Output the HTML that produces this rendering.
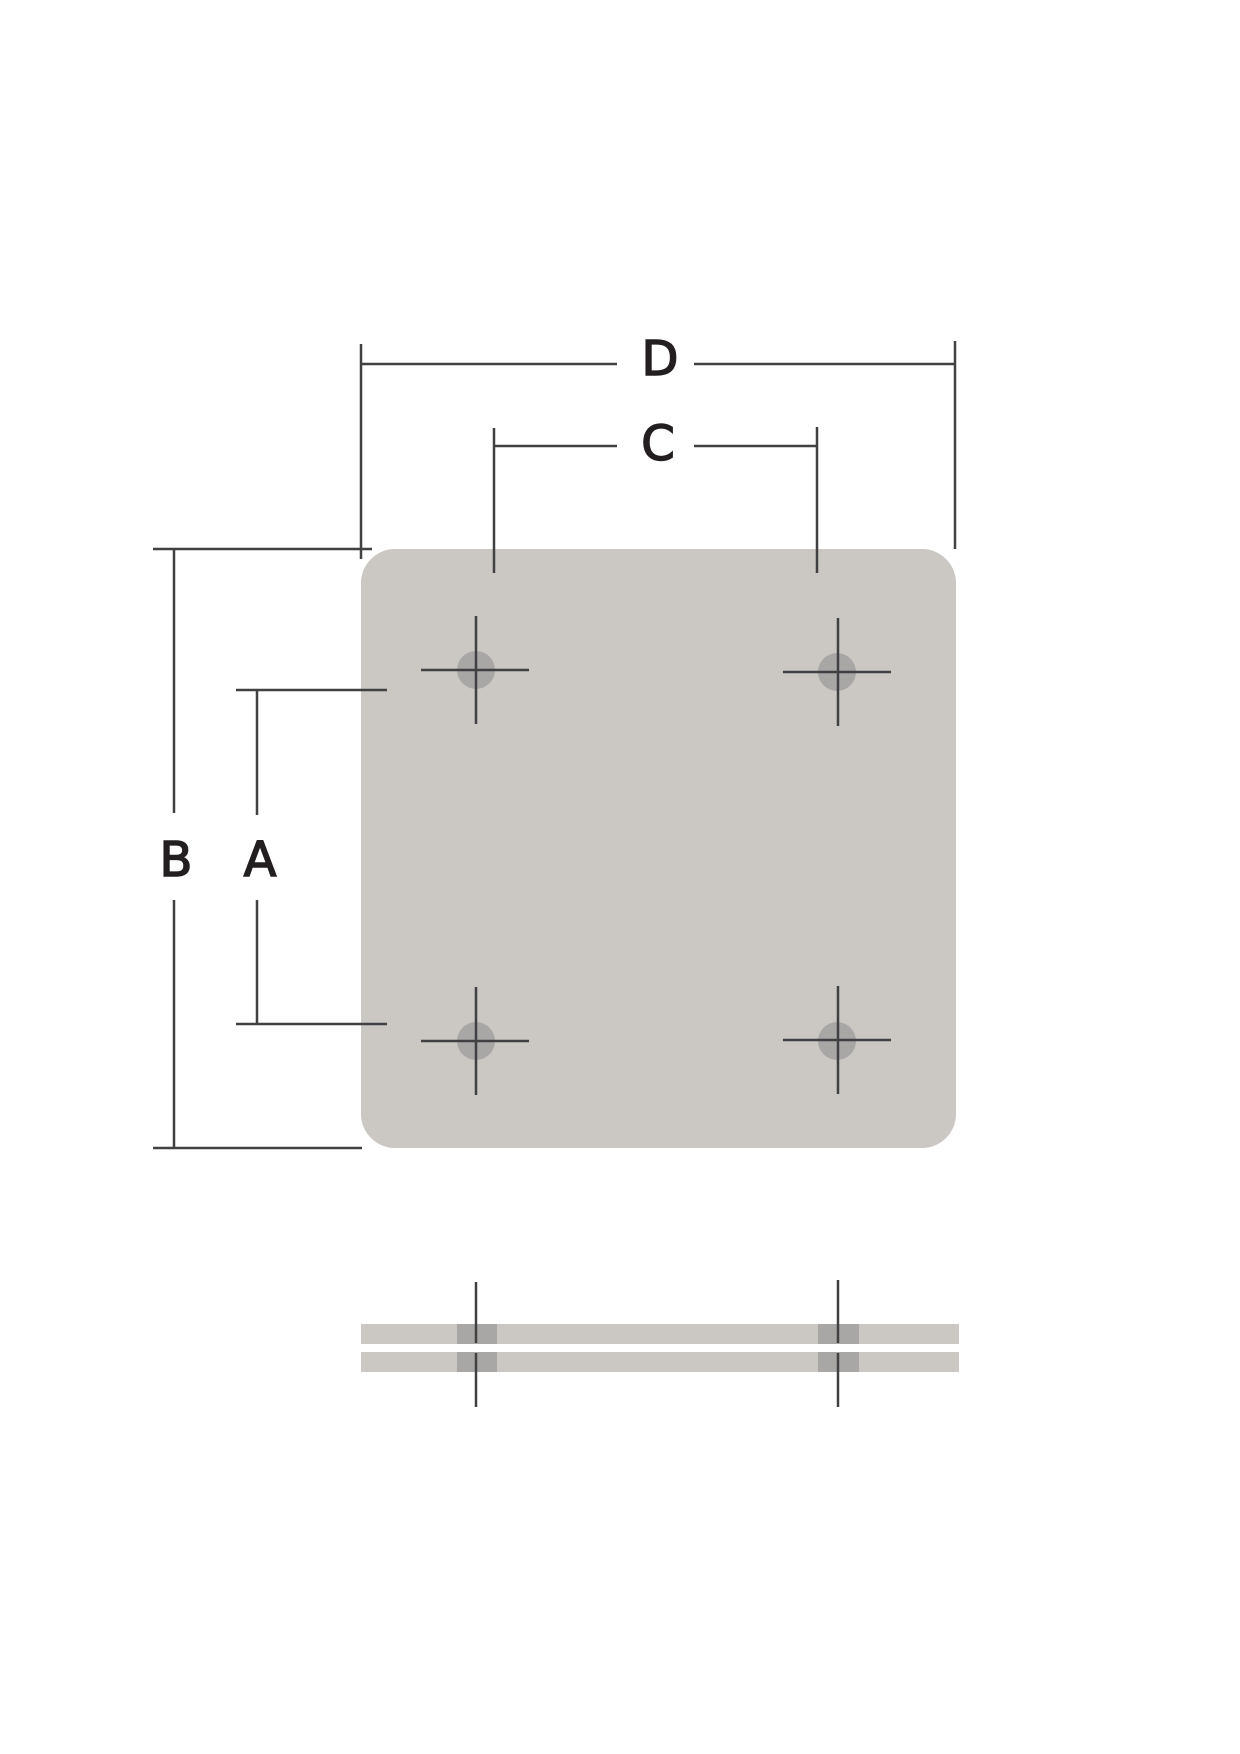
<!DOCTYPE html>
<html><head><meta charset="utf-8"><style>html,body{margin:0;padding:0;background:#fff}svg{display:block}</style></head>
<body>
<svg width="1240" height="1754" viewBox="0 0 1240 1754" xmlns="http://www.w3.org/2000/svg">
<rect x="361" y="549" width="595" height="599" rx="34" ry="34" fill="#cbc8c3"/>
<g fill="#a8a7a6">
<circle cx="476" cy="670" r="19"/><circle cx="837" cy="672" r="19"/>
<circle cx="476" cy="1041" r="19"/><circle cx="837" cy="1041" r="19"/>
<rect x="361" y="1324" width="598" height="20" fill="#cbc8c3"/>
<rect x="361" y="1352" width="598" height="20" fill="#cbc8c3"/>
<rect x="457" y="1324" width="40" height="20"/><rect x="818" y="1324" width="41" height="20"/>
<rect x="457" y="1352" width="40" height="20"/><rect x="818" y="1352" width="41" height="20"/>
</g>
<g stroke="#414042" stroke-width="2.5" fill="none">
<line x1="361" y1="344" x2="361" y2="559"/><line x1="955" y1="341" x2="955" y2="549"/>
<line x1="361" y1="364" x2="617" y2="364"/><line x1="694" y1="364" x2="955" y2="364"/>
<line x1="494" y1="428" x2="494" y2="573"/><line x1="817" y1="427" x2="817" y2="573"/>
<line x1="494" y1="446" x2="617" y2="446"/><line x1="694" y1="446" x2="817" y2="446"/>
<line x1="153" y1="549" x2="372" y2="549"/><line x1="153" y1="1148" x2="362" y2="1148"/>
<line x1="174" y1="549" x2="174" y2="813"/><line x1="174" y1="900" x2="174" y2="1148"/>
<line x1="236" y1="690" x2="387" y2="690"/><line x1="236" y1="1024" x2="387" y2="1024"/>
<line x1="257" y1="690" x2="257" y2="815"/><line x1="257" y1="900" x2="257" y2="1024"/>
<line x1="421" y1="670" x2="529" y2="670"/><line x1="476" y1="616" x2="476" y2="724"/>
<line x1="783" y1="672" x2="891" y2="672"/><line x1="838" y1="618" x2="838" y2="726"/>
<line x1="421" y1="1041" x2="529" y2="1041"/><line x1="476" y1="987" x2="476" y2="1095"/>
<line x1="783" y1="1040" x2="891" y2="1040"/><line x1="838" y1="986" x2="838" y2="1094"/>
<line x1="476" y1="1282" x2="476" y2="1343"/><line x1="476" y1="1353" x2="476" y2="1407"/>
<line x1="838" y1="1280" x2="838" y2="1343"/><line x1="838" y1="1353" x2="838" y2="1407"/>
</g>
<g font-family="'DejaVu Sans','Liberation Sans',sans-serif" font-size="48" fill="#231f20" stroke="#231f20" stroke-width="1.5" text-anchor="middle">
<text x="660" y="375">D</text>
<text x="658" y="460">C</text>
<text x="176" y="876">B</text>
<text x="260" y="876">A</text>
</g>
</svg>
</body></html>
